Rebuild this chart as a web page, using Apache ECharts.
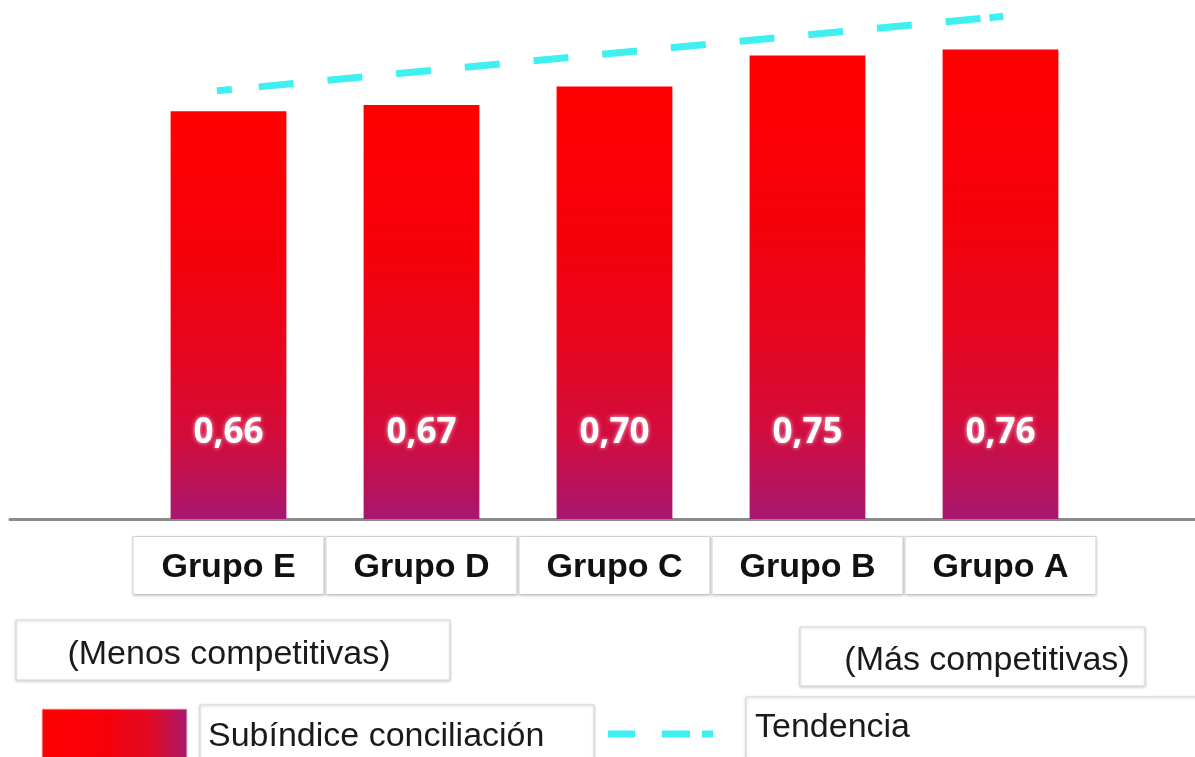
<!DOCTYPE html>
<html>
<head>
<meta charset="utf-8">
<title>Subíndice conciliación por grupo</title>
<script src="https://cdn.jsdelivr.net/npm/echarts@6/dist/echarts.min.js"></script>
<style>
  html, body { margin: 0; padding: 0; background: #ffffff; }
  #chart { width: 1195px; height: 757px; }
</style>
</head>
<body>
<div id="chart"></div>
<script>
// Groups ordered from least to most competitive
const categories = ['Grupo E', 'Grupo D', 'Grupo C', 'Grupo B', 'Grupo A'];
// Conciliation sub-index per group
const subindice = [0.66, 0.67, 0.70, 0.75, 0.76];
// Trend line: [position along the group axis, value] at its two ends
const tendenciaInicio = [-0.06, 0.693];
const tendenciaFin = [4.03, 0.814];
const tendencia = [tendenciaInicio, tendenciaFin];

const legendLabels = ['Subíndice conciliación', 'Tendencia'];
const extremeLabels = ['(Menos competitivas)', '(Más competitivas)'];

const RED = '#ff0000';
const PURPLE = '#a8176f';
const CYAN = '#3ff0f0';
const TEXT_FONT = '"Liberation Sans", Arial, sans-serif';

// Dash rhythm of the trend line: short lead-in, regular dashes, short tail
const trendDash = [15, 27];
for (let i = 0; i < 10; i++) trendDash.push(35, 34);
trendDash.push(35, 9, 14, 40);

const chart = echarts.init(document.getElementById('chart'), null, { renderer: 'canvas' });

const barGradient = new echarts.graphic.LinearGradient(0, 0, 0, 1, [
  { offset: 0, color: RED },
  { offset: 0.35, color: '#f5000a' },
  { offset: 0.6, color: '#e6061f' },
  { offset: 0.8, color: '#d20c3c' },
  { offset: 1, color: PURPLE }
]);

const swatchGradient = new echarts.graphic.LinearGradient(0, 0, 1, 0, [
  { offset: 0, color: RED },
  { offset: 0.45, color: '#f5000a' },
  { offset: 0.75, color: '#e00a25' },
  { offset: 1, color: PURPLE }
]);

const boxShadow = {
  shadowColor: 'rgba(0,0,0,0.18)',
  shadowBlur: 3,
  shadowOffsetY: 1
};

// White framed box holding one line of text
function textBox(x, y, w, h, text, textX, textY, align) {
  return {
    type: 'group',
    children: [
      {
        type: 'rect',
        shape: { x: x, y: y, width: w, height: h },
        style: Object.assign({ fill: '#ffffff', stroke: '#d6d6d6', lineWidth: 1 }, boxShadow)
      },
      {
        type: 'text',
        style: {
          x: textX,
          y: textY,
          text: text,
          fill: '#1a1a1a',
          font: '34px ' + TEXT_FONT,
          textAlign: align,
          textVerticalAlign: 'middle'
        }
      }
    ]
  };
}

const option = {
  backgroundColor: '#ffffff',
  animation: false,
  grid: [
    { left: 132, right: 98, top: 0, bottom: 238 },
    { left: 10, right: 0, top: 0, bottom: 238 }
  ],
  xAxis: [
    {
      type: 'category',
      gridIndex: 0,
      data: categories,
      axisLine: { show: false },
      axisTick: { show: false },
      axisLabel: {
        interval: 0,
        margin: 18,
        verticalAlign: 'top',
        align: 'center',
        color: '#111111',
        fontFamily: TEXT_FONT,
        fontWeight: 'bold',
        fontSize: 34,
        width: 190,
        height: 53,
        lineHeight: 53,
        padding: [4, 0, 0, 0],
        backgroundColor: '#ffffff',
        borderColor: '#d8d8d8',
        borderWidth: 1,
        shadowColor: 'rgba(0,0,0,0.15)',
        shadowBlur: 3,
        shadowOffsetY: 1
      }
    },
    {
      // Full-width baseline under the bars
      type: 'value',
      gridIndex: 1,
      axisLine: { show: true, onZero: false, lineStyle: { color: '#8a8a8a', width: 3 } },
      axisTick: { show: false },
      axisLabel: { show: false },
      splitLine: { show: false }
    },
    {
      // Continuous group axis used by the trend line
      type: 'value',
      gridIndex: 0,
      min: -0.5,
      max: categories.length - 0.5,
      show: false
    }
  ],
  yAxis: [
    { type: 'value', gridIndex: 0, min: 0, max: 0.84, show: false },
    { type: 'value', gridIndex: 1, show: false }
  ],
  series: [
    {
      name: legendLabels[0],
      type: 'bar',
      xAxisIndex: 0,
      yAxisIndex: 0,
      data: subindice,
      barWidth: '60%',
      itemStyle: { color: barGradient },
      label: {
        show: true,
        position: 'insideBottom',
        distance: 68,
        formatter: p => p.value.toFixed(2).replace('.', ','),
        color: '#ffffff',
        fontFamily: '"Open Sans", sans-serif',
        fontWeight: 'bold',
        fontSize: 35,
        lineHeight: 36,
        textShadowColor: 'rgba(255,255,255,0.75)',
        textShadowBlur: 4
      },
      z: 2
    },
    {
      name: legendLabels[1],
      type: 'line',
      xAxisIndex: 2,
      yAxisIndex: 0,
      data: tendencia,
      symbol: 'none',
      lineStyle: { color: CYAN, width: 7, type: trendDash, cap: 'butt' },
      z: 3
    }
  ],
  graphic: [
    textBox(16, 620, 434, 60, extremeLabels[0], 229, 655, 'center'),
    textBox(800, 627, 345, 59, extremeLabels[1], 987, 661, 'center'),
    {
      type: 'rect',
      shape: { x: 42, y: 709, width: 145, height: 50 },
      style: { fill: swatchGradient, stroke: '#f0c8cc', lineWidth: 1 }
    },
    textBox(200, 705, 394, 60, legendLabels[0], 208, 737, 'left'),
    {
      type: 'line',
      shape: { x1: 608, y1: 734, x2: 713, y2: 734 },
      style: { stroke: CYAN, lineWidth: 7, lineDash: [27, 27, 28, 12] }
    },
    textBox(746, 697, 460, 62, legendLabels[1], 755, 728, 'left')
  ]
};

chart.setOption(option);
</script>
</body>
</html>
